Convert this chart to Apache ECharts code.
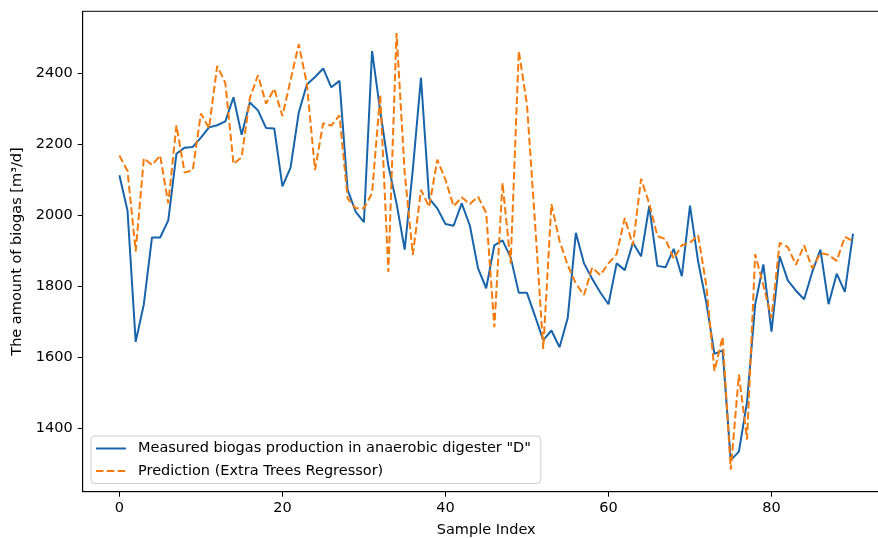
<!DOCTYPE html>
<html>
<head>
<meta charset="utf-8">
<script src="https://cdn.jsdelivr.net/npm/echarts@6/dist/echarts.min.js"></script>
<style>
  html, body { margin: 0; padding: 0; background: #ffffff; }
  #chart { width: 878px; height: 538px; }
</style>
</head>
<body>
<div id="chart"></div>
<script>
// ---- Data ----
const seriesNames = ['Measured biogas production in anaerobic digester "D"', 'Prediction (Extra Trees Regressor)'];

const measured = [
  2113, 2013, 1644, 1750, 1938, 1938, 1986, 2174, 2191, 2193,
  2219, 2248, 2254, 2265, 2333, 2227, 2318, 2296, 2246, 2245,
  2082, 2135, 2289, 2369, 2390, 2414, 2361, 2379, 2072, 2010,
  1981, 2463, 2294, 2140, 2034, 1904, 2130, 2388, 2048, 2020,
  1976, 1971, 2034, 1971, 1851, 1795, 1916, 1930, 1882, 1782,
  1782, 1716, 1649, 1676, 1629, 1711, 1951, 1865, 1822, 1783,
  1750, 1865, 1846, 1923, 1885, 2026, 1858, 1854, 1906, 1829,
  2028, 1870, 1755, 1610, 1620, 1311, 1335, 1475, 1750, 1862,
  1673, 1885, 1817, 1788, 1764, 1841, 1904, 1750, 1836, 1785,
  1949
];

const predicted = [
  2169, 2125, 1899, 2161, 2142, 2169, 2034, 2254, 2121, 2127,
  2287, 2246, 2421, 2373, 2145, 2164, 2330, 2395, 2315, 2357,
  2280, 2381, 2482, 2371, 2128, 2260, 2253, 2282, 2048, 2020,
  2020, 2063, 2340, 1841, 2514, 2120, 1889, 2072, 2024, 2157,
  2101, 2026, 2051, 2032, 2053, 2007, 1685, 2092, 1865, 2463,
  2313, 1976, 1624, 2032, 1928, 1860, 1808, 1776, 1853, 1832,
  1865, 1891, 1993, 1916, 2103, 2034, 1942, 1933, 1878, 1916,
  1923, 1944, 1803, 1562, 1658, 1284, 1552, 1369, 1891, 1803,
  1711, 1923, 1911, 1861, 1916, 1851, 1894, 1889, 1872, 1940,
  1928
];

const xTicks = [0, 20, 40, 60, 80];
const yTicks = [1400, 1600, 1800, 2000, 2200, 2400];

// ---- Chart ----
const FONT = 'DejaVu Sans';
const FS = 14.5;
const pairs = arr => arr.map((v, i) => [i, v]);

const chart = echarts.init(document.getElementById('chart'), null, { renderer: 'canvas' });
chart.setOption({
  animation: false,
  backgroundColor: '#ffffff',
  textStyle: { fontFamily: FONT },
  grid: {
    left: 82.7, top: 11.3, width: 807, height: 480.4,
    outerBoundsMode: 'none', containLabel: false,
    show: true, borderColor: '#000000', borderWidth: 1, backgroundColor: 'transparent'
  },
  legend: {
    orient: 'vertical',
    left: 91, top: 436,
    padding: [5, 10, 5, 4],
    itemWidth: 30, itemHeight: 14, itemGap: 7.5,
    backgroundColor: 'rgba(255,255,255,0.8)',
    borderColor: '#cccccc', borderWidth: 1, borderRadius: 4,
    textStyle: { fontFamily: FONT, fontSize: FS, color: '#000000', padding: [0, 0, 0, 7] },
    itemStyle: { color: 'rgba(0,0,0,0)', borderColor: 'rgba(0,0,0,0)', borderWidth: 0 },
    data: [
      { name: seriesNames[0] },
      { name: seriesNames[1] }
    ]
  },
  xAxis: {
    type: 'value',
    min: -4.5, max: 94.5,
    name: 'Sample Index',
    nameLocation: 'middle', nameGap: 31,
    nameTextStyle: { fontFamily: FONT, fontSize: FS, color: '#000000' },
    axisLine: { show: true, onZero: false, lineStyle: { color: '#000000', width: 1 } },
    axisTick: { show: true, inside: false, length: 5, customValues: xTicks, lineStyle: { color: '#000000', width: 1 } },
    axisLabel: { show: true, margin: 9, customValues: xTicks, fontFamily: FONT, fontSize: FS, color: '#000000' },
    splitLine: { show: false }
  },
  yAxis: {
    type: 'value',
    min: 1222, max: 2575,
    name: 'The amount of biogas [m³/d]',
    nameLocation: 'middle', nameGap: 55, nameRotate: 90,
    nameTextStyle: { fontFamily: FONT, fontSize: FS, color: '#000000' },
    axisLine: { show: true, onZero: false, lineStyle: { color: '#000000', width: 1 } },
    axisTick: { show: true, inside: false, length: 5, customValues: yTicks, lineStyle: { color: '#000000', width: 1 } },
    axisLabel: { show: true, margin: 10, customValues: yTicks, formatter: v => String(v), fontFamily: FONT, fontSize: FS, color: '#000000' },
    splitLine: { show: false }
  },
  series: [
    {
      name: seriesNames[0],
      type: 'line',
      data: pairs(measured),
      symbol: 'none', showSymbol: false,
      color: '#1764ab',
      lineStyle: { color: '#1764ab', width: 2 },
      z: 2
    },
    {
      name: seriesNames[1],
      type: 'line',
      data: pairs(predicted),
      symbol: 'none', showSymbol: false,
      color: '#f57a0c',
      lineStyle: { color: '#f57a0c', width: 2, type: [7.5, 3.3] },
      z: 3
    }
  ]
});
</script>
</body>
</html>
